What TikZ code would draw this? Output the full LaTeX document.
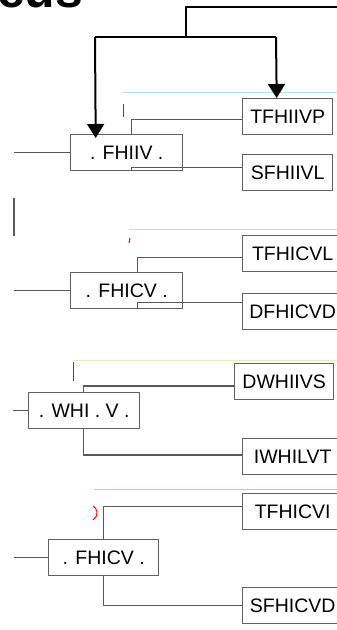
\documentclass[tikz,border=0pt]{standalone}
\usepackage{fontspec}
\setmainfont{Liberation Sans}
\usetikzlibrary{arrows.meta}
\begin{document}
\begin{tikzpicture}[x=1pt,y=-1pt,
  lbl/.style={font=\fontsize{19.5}{21}\selectfont},
  mbox/.style={draw=black!62, line width=1.4pt, minimum height=36pt, inner sep=0pt, anchor=north west, lbl},
  rbox/.style={draw=black!62, line width=1.4pt, minimum height=36pt, inner sep=0pt, anchor=north west, lbl},
  conn/.style={draw=black!65, line width=1.5pt},
  arr/.style={draw=black, line width=2pt, -{Triangle[width=17pt,length=14pt]}},
  faint/.style={line width=0.8pt, opacity=0.35},
  redmark/.style={draw=red, line width=1pt}]
\useasboundingbox (0,0) rectangle (337,630);
\fill[white] (0,0) rectangle (337,630);

% clipped heading
\node[anchor=base west, inner sep=0pt, font=\fontsize{50}{52}\selectfont\bfseries] (head) at (-3,7) {eus};

% faint artifact lines
\draw[faint, cyan] (123,92) -- (337,92);
\draw[faint, orange] (129,229) -- (337,229);
\draw[faint, yellow!70!green] (73,360) -- (337,360);
\draw[faint, magenta] (94,489) -- (337,489);
\draw[redmark] (123,104) -- (123,117);
\draw[redmark] (130,238) -- (129,243);
\draw[redmark] (73,362) -- (73,381);
\draw[redmark] (93,506) arc (120:240:-8);

% section 1
\node[mbox, minimum width=112pt] (fhiiv) at (70,134) {. FHIIV .};
\node[rbox, minimum width=90pt] (tfhiivp) at (242,98) {TFHIIVP};
\node[rbox, minimum width=90pt] (sfhiivl) at (242,154) {SFHIIVL};
\draw[conn] (fhiiv.west) -- ++(-56,0) coordinate (l1);
\draw[conn] ([xshift=5pt]fhiiv.north) |- ([yshift=-3pt]tfhiivp.west);
\draw[conn] ([xshift=5pt]fhiiv.south) |- ([yshift=5pt]sfhiivl.west);
\coordinate (vbar1) at (14,198);
\coordinate (vbar2) at (14,236);
\draw[conn] (vbar1) -- (vbar2);

% top arrows
\coordinate (tr) at (337,7);
\coordinate (split) at (186,7);
\coordinate (bar) at (186,37);
\draw[line width=2pt] (tr) -- (split) -- (bar);
\draw[line width=2pt] (95,37) -- (276,37);
\draw[arr] (95,37) -- ([xshift=-31pt,yshift=-4pt]fhiiv.north);
\draw[arr] (276,37) -- ([xshift=-11pt]tfhiivp.north);

% section 2
\node[mbox, minimum width=112pt] (fhicv) at (70,272) {. FHICV .};
\node[rbox, minimum width=100pt] (tfhicvl) at (242,235) {TFHICVL};
\node[rbox, minimum width=100pt] (dfhicvd) at (242,293) {DFHICVD};
\draw[conn] (fhicv.west) -- ++(-56,0) coordinate (l2);
\draw[conn] ([xshift=11pt]fhicv.north) |- ([yshift=-4pt]tfhicvl.west);
\draw[conn] ([xshift=11pt]fhicv.south) |- ([yshift=9pt]dfhicvd.west);

% section 3
\node[mbox, minimum width=111pt] (whi) at (28,392) {. WHI . V .};
\node[rbox, minimum width=99pt] (dwhiivs) at (234,363) {DWHIIVS};
\node[rbox, minimum width=100pt] (iwhilvt) at (242,438) {IWHILVT};
\draw[conn] (whi.west) -- ++(-15,0) coordinate (l3);
\draw[conn] ([xshift=-0.5pt]whi.north) |- ([yshift=-4.5pt]dwhiivs.west);
\draw[conn] ([xshift=-0.5pt]whi.south) |- ([yshift=1.5pt]iwhilvt.west);

% section 4
\node[mbox, minimum width=110pt] (fhicv2) at (48,539) {. FHICV .};
\node[rbox, minimum width=100pt] (tfhicvi) at (242,493) {TFHICVI};
\node[rbox, minimum width=100pt] (sfhicvd) at (242,587) {SFHICVD};
\draw[conn] (fhicv2.west) -- ++(-34,0) coordinate (l4);
\draw[conn] (fhicv2.north) |- ([yshift=5pt]tfhicvi.west);
\draw[conn] (fhicv2.south) |- (sfhicvd.west);
\end{tikzpicture}
\end{document}
